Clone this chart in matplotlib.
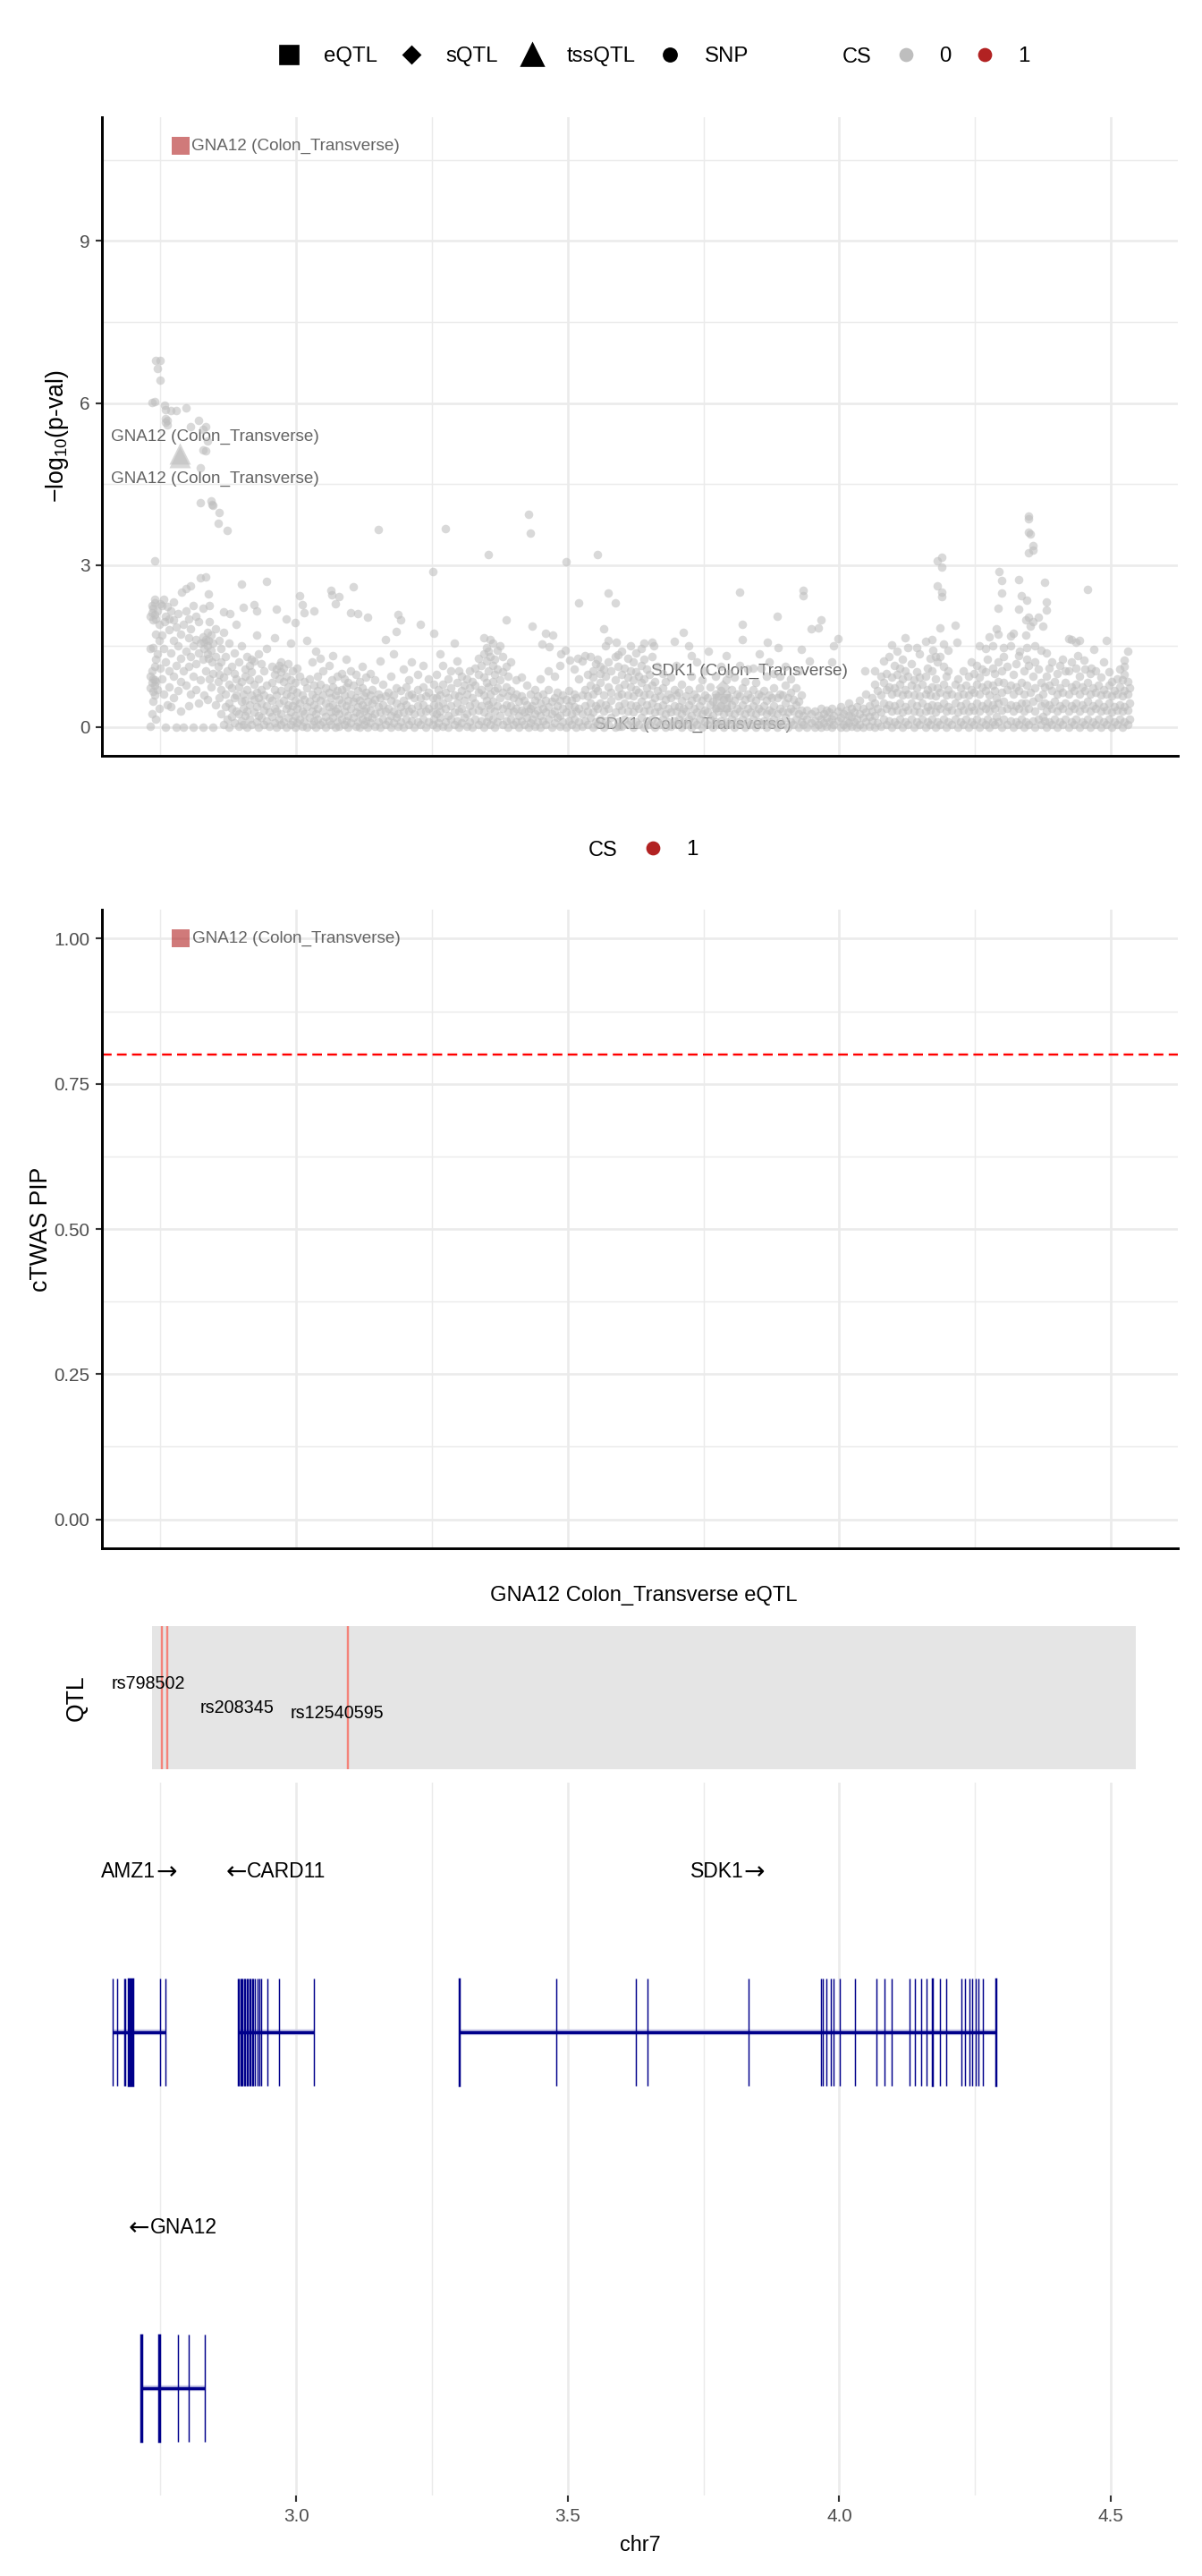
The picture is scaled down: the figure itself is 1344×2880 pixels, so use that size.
import matplotlib
matplotlib.use("Agg")
import matplotlib.pyplot as plt
from matplotlib.lines import Line2D

plt.rcParams["font.family"] = ["Liberation Sans", "DejaVu Sans"]
plt.rcParams["mathtext.fontset"] = "custom"
plt.rcParams["mathtext.rm"] = "Liberation Sans"
plt.rcParams["mathtext.it"] = "Liberation Sans:italic"

# ---------------- data ----------------
# SNP z-scores as -log10(p), grouped by position (Mb on chr7)
snp_block_a = [
    (2.731, [0.02, 0.72, 0.95, 1.45, 2.05]), (2.734, [0.25, 0.82, 1.05, 2.12, 2.25, 6.01]),
    (2.737, [0.48, 0.66, 0.9, 1.48, 1.98, 2.2]), (2.739, [0.78, 0.88, 1.12, 2.3, 6.02]),
    (2.740, [3.08, 0.6, 2.08, 2.37]), (2.742, [6.79, 0.15, 0.85, 1.25, 1.72, 2.0]),
    (2.745, [6.64, 0.7, 1.35, 2.15]), (2.748, [0.35, 1.6, 1.9]), (2.750, [6.78, 6.42, 1.1, 2.28]),
    (2.753, [0.9, 1.7, 2.25]), (2.756, [2.36, 0.62, 1.45]), (2.757, [5.96, 1.95]),
    (2.760, [5.88, 5.71, 5.65, 0.0, 1.2, 2.05]), (2.762, [5.6, 5.68, 0.42, 2.24]),
    (2.766, [0.75, 1.05, 1.8, 2.0]), (2.770, [5.86, 0.38, 1.38, 2.16]),
    (2.774, [2.32, 0.55, 0.95, 1.6, 1.98]), (2.779, [5.86, 0.0, 1.15, 1.85]),
    (2.783, [0.68, 1.5, 2.1]), (2.788, [0.3, 0.85, 1.28, 1.72]), (2.789, [2.5]),
    (2.792, [0.0, 1.05, 1.9]), (2.797, [2.56, 0.78, 1.4]), (2.798, [5.91, 2.15]),
    (2.802, [0.4, 1.12, 1.65, 2.0]), (2.806, [5.56, 2.61, 0.62, 1.3, 1.82]),
    (2.810, [0.0, 0.95, 1.5, 2.25]), (2.815, [0.7, 1.18, 1.62, 2.05]),
    (2.820, [5.67, 0.45, 1.38, 1.95]), (2.824, [2.77, 4.8, 4.16, 0.88, 1.55]),
    (2.828, [5.51, 5.13, 0.0, 1.25, 1.68, 2.2]), (2.831, [0.6, 1.45, 1.58]),
    (2.833, [5.57, 5.12, 2.78, 1.05, 1.62]), (2.836, [5.29, 0.52, 1.35, 1.5, 1.75]),
    (2.838, [2.47, 1.28, 1.6]), (2.840, [2.25, 0.9, 1.95]), (2.844, [4.19, 0.75, 1.42, 1.7]),
    (2.845, [4.13, 1.2]), (2.847, [4.11, 0.0, 1.0, 1.55]), (2.851, [0.42, 1.3, 1.82]),
    (2.856, [3.78, 0.85, 1.12]), (2.858, [3.97, 0.55, 0.98, 1.6]), (2.862, [0.25, 0.7, 1.2, 1.45]),
    (2.866, [2.13, 0.05, 0.92, 1.75]), (2.870, [0.38, 0.62, 1.3]), (2.873, [3.65, 0.15, 1.05]),
]

snp_block_b = [
    (2.877, [0.0, 0.45, 0.8, 1.55]), (2.878, [2.1]), (2.882, [0.2, 0.35, 0.72, 1.12]),
    (2.886, [0.08, 0.55, 1.0, 1.38]), (2.890, [0.3, 0.6, 0.9, 1.9]), (2.894, [0.02, 0.25, 0.75, 1.2]),
    (2.900, [2.65, 0.12, 0.48, 0.85, 1.5]), (2.903, [2.22, 0.05, 0.35, 0.62]),
    (2.906, [0.22, 0.5, 0.95, 1.08]), (2.910, [0.0, 0.3, 0.7, 1.3]), (2.914, [0.15, 0.42, 0.88, 1.15]),
    (2.918, [0.05, 0.6, 1.02, 1.25]), (2.923, [2.26, 0.28, 0.52, 0.8, 1.22]),
    (2.927, [2.15, 0.1, 0.38, 0.65, 1.7]), (2.931, [0.0, 0.22, 0.55, 0.9, 1.35]),
    (2.935, [0.18, 0.45, 0.7, 1.18]), (2.940, [0.05, 0.32, 0.6, 1.05]),
    (2.946, [2.70, 0.12, 0.4, 0.78, 1.45]), (2.950, [0.02, 0.28, 0.55]), (2.955, [0.2, 0.5, 0.82, 1.12]),
    (2.960, [0.08, 0.35, 0.7, 0.98, 1.65]), (2.964, [2.18, 0.0, 0.3, 0.6, 1.08]),
    (2.968, [0.15, 0.45, 0.9, 1.15]), (2.972, [0.05, 0.25, 0.68, 1.02, 1.2]),
    (2.977, [0.1, 0.5, 0.85, 1.1]), (2.981, [2.0, 0.0, 0.35, 0.62, 0.95]),
    (2.985, [0.18, 0.42, 0.75, 1.18]), (2.990, [0.05, 0.28, 0.58, 0.88, 1.55]),
    (2.994, [0.12, 0.4, 0.7, 1.05]), (2.998, [1.93, 0.0, 0.22, 0.5, 0.82]),
    (3.002, [0.08, 0.35, 0.65, 1.1]), (3.006, [2.43, 0.15, 0.45, 0.95]), (3.011, [2.27, 0.02, 0.3, 0.6]),
    (3.015, [2.12, 0.1, 0.25, 0.52, 0.85]), (3.020, [0.0, 0.38, 0.72, 1.6]), (3.025, [0.18, 0.48, 0.9]),
    (3.029, [0.05, 0.3, 0.62, 1.2]), (3.032, [2.16, 0.12, 0.42, 0.78]), (3.036, [0.0, 0.25, 0.55, 1.4]),
    (3.040, [0.15, 0.35, 0.68, 0.95]), (3.045, [0.05, 0.5, 0.8, 1.28]), (3.050, [0.1, 0.3, 0.6, 1.05]),
    (3.055, [0.0, 0.2, 0.45, 0.72]), (3.060, [0.12, 0.38, 0.65, 1.15]), (3.064, [2.54, 0.05, 0.28, 0.55]),
    (3.065, [2.45, 0.88]), (3.068, [0.18, 0.42, 0.75, 1.32]), (3.072, [2.29, 0.0, 0.3, 0.6]),
    (3.076, [0.1, 0.35, 0.68, 0.95]), (3.079, [2.42, 0.02, 0.25, 0.52]), (3.084, [0.15, 0.45, 0.7, 1.0]),
    (3.088, [0.05, 0.3, 0.6, 0.9]), (3.092, [0.12, 0.4, 0.75, 1.25]), (3.096, [0.0, 0.22, 0.5, 0.82]),
    (3.100, [2.12, 0.08, 0.35, 0.62, 1.05]), (3.106, [2.6, 0.18, 0.48, 0.78]),
    (3.110, [0.02, 0.28, 0.55, 0.98]), (3.113, [2.1, 0.1, 0.38, 0.68]), (3.117, [0.0, 0.25, 0.5, 0.85]),
    (3.121, [0.15, 0.42, 0.72, 1.12]), (3.125, [0.05, 0.3, 0.58]), (3.129, [0.12, 0.35, 0.65, 0.92]),
    (3.132, [2.04, 0.0, 0.2, 0.48]), (3.136, [0.08, 0.32, 0.6, 1.0]), (3.140, [0.18, 0.45, 0.7]),
    (3.145, [0.02, 0.25, 0.52, 0.88]), (3.151, [3.66, 0.1, 0.38, 0.62]), (3.155, [0.0, 0.28, 0.55, 1.22]),
    (3.160, [0.15, 0.42, 0.8]), (3.165, [0.05, 0.3, 0.58, 1.62]), (3.170, [0.12, 0.35, 0.65]),
    (3.175, [0.0, 0.22, 0.5, 0.95]), (3.180, [0.08, 0.3, 0.6, 1.35]), (3.185, [1.77, 0.18, 0.45, 0.72]),
    (3.188, [2.09, 0.02, 0.25]), (3.193, [1.98, 0.1, 0.38, 0.68]), (3.198, [0.0, 0.28, 0.5, 1.08]),
    (3.203, [0.15, 0.42, 0.75]), (3.208, [0.05, 0.3, 0.6, 0.88]), (3.213, [0.12, 0.35, 0.62, 1.2]),
    (3.218, [0.0, 0.25, 0.55]), (3.223, [0.1, 0.4, 0.7, 0.98]), (3.229, [1.9, 0.05, 0.28, 0.55]),
    (3.234, [0.15, 0.42, 0.75, 1.15]), (3.239, [0.0, 0.3, 0.58]), (3.244, [0.1, 0.35, 0.65, 0.9]),
    (3.251, [2.88, 0.05, 0.28, 0.55]), (3.254, [1.73, 0.15, 0.42, 0.8]),
]

snp_block_c = [
    (3.258, [0.0, 0.25, 0.55, 0.98]), (3.262, [0.08, 0.4, 0.7]), (3.265, [1.35, 0.18, 0.3, 0.6]),
    (3.270, [0.02, 0.45, 0.8, 1.15]), (3.275, [3.68, 0.1, 0.35, 0.65]), (3.280, [0.0, 0.22, 0.55, 0.9]),
    (3.285, [0.15, 0.4, 0.72, 1.05]), (3.292, [1.55, 0.05, 0.28, 0.6]), (3.296, [1.22, 0.12, 0.45, 0.82]),
    (3.300, [0.0, 0.3, 0.58, 1.05]), (3.305, [0.08, 0.35, 0.68, 0.95]), (3.310, [0.18, 0.5, 0.78]),
    (3.315, [0.02, 0.25, 0.62, 0.9]), (3.320, [0.1, 0.4, 0.72, 1.05]), (3.325, [0.0, 0.3, 0.55, 0.85]),
    (3.330, [0.15, 0.45, 0.78, 1.1]), (3.335, [0.05, 0.32, 0.65, 0.98, 1.28]),
    (3.340, [0.12, 0.4, 0.7, 1.15]), (3.345, [1.66, 0.0, 0.28, 0.6, 0.92, 1.35]),
    (3.350, [0.1, 0.5, 0.82, 1.22, 1.48]), (3.354, [3.19, 0.2, 0.42, 0.75, 1.05, 1.4]),
    (3.358, [0.05, 0.35, 0.62, 1.3, 1.62]), (3.362, [0.15, 0.48, 0.85, 1.15, 1.55]),
    (3.366, [0.0, 0.3, 0.68, 0.98, 1.25]), (3.370, [0.1, 0.4, 0.72, 1.08, 1.42]),
    (3.375, [0.22, 0.55, 0.88, 1.5]), (3.380, [0.05, 0.35, 0.65, 1.02, 1.3]),
    (3.386, [1.98, 0.12, 0.42, 0.75, 1.12]), (3.390, [0.0, 0.28, 0.58, 0.95]),
    (3.395, [0.15, 0.4, 0.68, 1.2]), (3.400, [0.05, 0.3, 0.55]), (3.405, [0.1, 0.35, 0.62, 0.88]),
    (3.410, [0.0, 0.22, 0.48]), (3.415, [0.12, 0.32, 0.58, 0.92]), (3.420, [0.05, 0.28, 0.5]),
    (3.424, [0.18, 0.42, 0.78]), (3.428, [3.94, 0.0, 0.3]), (3.431, [3.59, 0.08, 0.35, 0.62]),
    (3.434, [1.87, 0.15, 0.4]), (3.440, [0.02, 0.25, 0.5, 0.7]), (3.445, [0.1, 0.32, 0.58]),
    (3.450, [0.0, 0.22, 0.45, 0.9]), (3.453, [1.54]), (3.455, [0.12, 0.35, 0.62]),
    (3.459, [1.74, 0.05, 0.28, 0.5]), (3.465, [0.15, 0.38, 0.7, 1.05]), (3.466, [1.49]),
    (3.470, [0.0, 0.25, 0.48]), (3.472, [1.70]), (3.475, [0.08, 0.3, 0.55, 0.95]),
    (3.480, [0.18, 0.4, 0.65]), (3.485, [0.02, 0.22, 0.5, 1.15]), (3.487, [1.35]),
    (3.490, [0.1, 0.35, 0.6]), (3.496, [1.43]), (3.497, [3.06, 0.0, 0.28, 0.52]),
    (3.502, [0.12, 0.4, 0.68]), (3.504, [1.24]), (3.507, [0.05, 0.25, 0.5]),
    (3.512, [0.15, 0.38, 0.62, 1.08]), (3.516, [0.0, 0.3, 0.55]), (3.518, [1.28]),
    (3.521, [2.3, 0.1, 0.35, 0.9]), (3.526, [0.02, 0.25, 0.6, 1.22]), (3.531, [1.33, 0.12, 0.4, 0.7]),
    (3.536, [0.05, 0.3, 0.58, 0.98]), (3.541, [0.18, 0.45, 0.78, 1.3]),
    (3.546, [0.0, 0.28, 0.62, 0.92, 1.05]), (3.551, [0.1, 0.4, 0.72, 1.18]),
    (3.555, [3.2, 0.05, 0.35, 0.68, 1.25]), (3.560, [0.15, 0.45, 0.82, 1.0, 1.12]),
    (3.566, [1.82, 0.0, 0.3, 0.6, 1.08]), (3.570, [0.12, 0.42, 0.95, 1.5]),
    (3.575, [2.48, 0.05, 0.35, 0.75, 1.2, 1.6]), (3.580, [0.18, 0.5, 0.65, 1.05]),
    (3.587, [2.3, 0.0, 0.28, 0.88, 1.3]), (3.589, [1.58]), (3.592, [1.34, 0.1, 0.58, 1.12]),
    (3.595, [0.02, 0.4, 0.72]),
]

snp_block_d = [
    (3.600, [0.02, 0.32, 0.62, 0.98, 1.4]), (3.605, [0.15, 0.45, 0.8, 1.1]),
    (3.610, [0.05, 0.3, 0.6, 0.92, 1.28]), (3.615, [0.12, 0.42, 0.75, 1.05, 1.5]),
    (3.620, [0.0, 0.28, 0.58, 0.88, 1.2]), (3.625, [0.1, 0.4, 0.7, 1.02, 1.38]),
    (3.630, [0.05, 0.35, 0.65, 0.95]), (3.635, [0.18, 0.48, 0.82, 1.15, 1.45]),
    (3.641, [1.55, 0.0, 0.3, 0.6, 0.9, 1.25]), (3.645, [0.12, 0.42, 0.72, 1.08]),
    (3.650, [0.05, 0.32, 0.62, 0.98]), (3.655, [1.58, 0.15, 0.45, 0.78, 1.3]),
    (3.658, [1.5]), (3.660, [0.0, 0.28, 0.55, 0.85]), (3.665, [0.1, 0.38, 0.68, 1.12]),
    (3.670, [0.05, 0.3, 0.58]), (3.675, [0.15, 0.42, 0.72, 1.0]), (3.680, [0.0, 0.25, 0.52, 0.85]),
    (3.685, [0.1, 0.35, 0.62]), (3.690, [0.02, 0.28, 0.55, 0.92]), (3.696, [1.59, 0.12, 0.4, 0.7]),
    (3.700, [0.05, 0.3, 0.6, 1.15]), (3.705, [0.15, 0.38, 0.65]), (3.710, [0.0, 0.25, 0.5, 0.8]),
    (3.713, [1.76, 0.1, 0.35]), (3.718, [0.05, 0.3, 0.58]), (3.722, [1.5, 0.15, 0.42, 0.7]),
    (3.727, [0.0, 0.22, 0.5, 0.95]), (3.728, [1.32]), (3.732, [0.1, 0.35, 0.62]),
    (3.737, [0.05, 0.28, 0.55, 1.2]), (3.742, [0.15, 0.4, 0.72]), (3.747, [0.0, 0.25, 0.5, 0.88]),
    (3.752, [0.1, 0.32, 0.6, 1.05]), (3.757, [0.05, 0.28, 0.55]), (3.759, [1.4]),
    (3.762, [0.15, 0.42, 0.75]), (3.767, [0.0, 0.22, 0.48]), (3.772, [0.1, 0.35, 0.62, 0.95]),
    (3.777, [0.05, 0.3, 0.58]), (3.782, [0.12, 0.4, 0.68, 1.12]), (3.787, [0.0, 0.25, 0.52]),
    (3.792, [1.32, 0.1, 0.35, 0.62, 0.88]), (3.797, [0.05, 0.28, 0.55, 1.0]),
    (3.802, [0.15, 0.42, 0.7]), (3.807, [0.0, 0.25, 0.5, 0.92]), (3.812, [0.1, 0.35, 0.62]),
    (3.816, [2.5, 0.05, 0.3, 0.58, 1.15]), (3.822, [1.91, 1.63, 0.15, 0.42, 0.72]),
    (3.826, [0.0, 0.25, 0.52, 0.85]), (3.831, [0.1, 0.35, 0.62, 1.08]), (3.836, [0.05, 0.28, 0.55]),
    (3.841, [0.15, 0.4, 0.7, 1.1]), (3.846, [0.0, 0.25, 0.5, 0.82]), (3.851, [0.1, 0.35, 0.62]),
    (3.853, [1.35]), (3.856, [0.05, 0.3, 0.58, 1.1]), (3.861, [0.12, 0.4, 0.68]),
    (3.866, [0.0, 0.25, 0.5, 0.95]), (3.868, [1.57]), (3.871, [0.1, 0.32, 0.6, 1.2]),
    (3.876, [0.05, 0.28, 0.55]), (3.880, [0.15, 0.4, 0.72, 1.0]), (3.886, [2.06, 0.0, 0.25, 0.55]),
    (3.887, [1.48]), (3.890, [0.1, 0.35, 0.62, 0.95]), (3.895, [0.05, 0.3, 0.6]),
    (3.900, [0.18, 0.45, 0.78, 1.12]), (3.905, [0.0, 0.28, 0.55]), (3.910, [0.1, 0.35, 0.65, 0.9]),
    (3.915, [0.05, 0.3, 0.52]), (3.920, [0.15, 0.42, 0.72]), (3.925, [0.0, 0.25, 0.48, 1.05]),
    (3.930, [1.44, 0.1, 0.32, 0.6]), (3.934, [2.53, 2.44, 0.05, 0.22]),
]

snp_block_e = [
    (3.940, [0.0, 0.15, 0.32]), (3.945, [1.22]), (3.948, [1.82, 0.08, 0.25]), (3.955, [0.0, 0.12, 0.3]),
    (3.962, [1.83, 0.05, 0.22]), (3.967, [1.99, 0.0, 0.15, 0.35]), (3.972, [0.08, 0.25]),
    (3.977, [0.02, 0.18, 0.32]), (3.982, [0.1, 0.28]), (3.986, [1.21, 0.0, 0.15, 0.35]),
    (3.990, [1.5, 0.05, 0.22]), (3.997, [1.64, 0.12, 0.3]), (4.002, [0.0, 0.18, 0.38]),
    (4.008, [0.05, 0.25]), (4.013, [0.0, 0.12, 0.32]), (4.018, [0.08, 0.22, 0.45]),
    (4.023, [0.02, 0.2, 0.35]), (4.028, [0.1, 0.28]), (4.033, [0.0, 0.15, 0.38]),
    (4.038, [0.05, 0.25, 0.5]), (4.044, [0.0, 0.18, 0.35]), (4.047, [1.05]), (4.049, [0.1, 0.28, 0.62]),
    (4.055, [0.02, 0.2, 0.4]), (4.060, [0.12, 0.3, 0.55]), (4.066, [1.05, 0.0, 0.22, 0.45, 0.8]),
    (4.071, [0.08, 0.35, 0.68]), (4.076, [0.02, 0.28, 0.6, 0.95]), (4.081, [0.15, 0.45, 0.82, 1.22]),
    (4.086, [0.05, 0.35, 0.7, 1.0]), (4.091, [0.12, 0.42, 0.75, 1.3]),
    (4.097, [1.52, 0.0, 0.3, 0.62, 0.92]), (4.102, [0.1, 0.4, 0.72, 1.15]),
    (4.107, [0.05, 0.32, 0.65, 0.98, 1.4]), (4.112, [0.15, 0.45, 0.8, 1.1]),
    (4.117, [0.0, 0.28, 0.6, 0.9, 1.25]), (4.122, [1.66, 0.1, 0.38, 0.7, 1.05]),
    (4.126, [1.48, 0.05, 0.32, 0.62, 0.95]), (4.132, [0.15, 0.45, 0.78, 1.18]),
    (4.137, [0.0, 0.3, 0.6, 0.88]), (4.143, [1.48, 0.1, 0.4, 0.72, 1.02]),
    (4.147, [0.05, 0.28, 0.58, 0.92, 1.35]), (4.152, [0.15, 0.45, 0.8]),
    (4.159, [1.59, 0.0, 0.3, 0.62, 0.95]), (4.162, [0.1, 0.38, 0.7, 1.1]),
    (4.167, [0.05, 0.32, 0.6, 1.28]), (4.170, [1.62, 0.15, 0.42, 0.75, 1.05]), (4.173, [1.43]),
    (4.177, [0.0, 0.28, 0.58, 0.9, 1.3]), (4.181, [3.08, 2.61, 0.1, 0.4, 0.72, 1.2]),
    (4.186, [1.83, 0.05, 0.35, 0.65, 1.3]), (4.188, [3.14, 2.97, 2.5, 2.41]),
    (4.192, [1.54, 0.15, 0.45, 0.8, 1.12]), (4.197, [0.0, 0.3, 0.6, 0.95]),
    (4.200, [1.43, 0.1, 0.38, 0.7, 1.05]), (4.207, [0.05, 0.32, 0.62]),
    (4.214, [1.88, 0.15, 0.45, 0.8]), (4.216, [1.57]), (4.218, [0.0, 0.28, 0.58, 0.9]),
    (4.223, [0.1, 0.4, 0.72]), (4.228, [0.05, 0.32, 0.62, 1.05]), (4.233, [0.15, 0.45, 0.78]),
    (4.238, [0.0, 0.3, 0.6, 0.95]), (4.243, [0.1, 0.38, 0.7, 1.2]), (4.248, [0.05, 0.32, 0.65, 1.0]),
    (4.253, [0.15, 0.45, 0.8, 1.15]), (4.258, [1.51, 0.0, 0.3, 0.62, 0.92]),
    (4.263, [0.1, 0.4, 0.75, 1.08]), (4.269, [1.46, 0.05, 0.35, 0.68, 1.02]),
    (4.273, [0.15, 0.45, 0.8, 1.25]), (4.276, [1.68, 0.0, 0.3, 0.6]),
    (4.283, [1.51, 0.1, 0.42, 0.78, 1.1]), (4.286, [0.05, 0.35, 0.68, 1.0]),
    (4.289, [1.82, 0.2, 0.55]), (4.292, [2.2, 1.72, 0.1, 0.45, 0.85, 1.2]), (4.294, [2.88]),
    (4.299, [2.71, 2.49, 0.0, 0.32, 0.65, 1.05]), (4.302, [1.48, 0.15, 0.48, 0.82, 1.3]),
    (4.309, [0.05, 0.35, 0.7, 1.12]), (4.315, [1.69, 1.5, 0.12, 0.42, 0.78]),
    (4.320, [1.74, 0.0, 0.3, 0.62, 0.98]), (4.325, [0.1, 0.4, 0.75, 1.18]),
    (4.330, [2.73, 2.18, 0.05, 0.35, 0.68, 1.32]), (4.332, [1.4]), (4.335, [2.44, 0.15, 0.45, 0.82]),
    (4.340, [0.0, 0.3, 0.62, 1.05]), (4.343, [1.98, 1.71, 0.1, 0.45]), (4.345, [2.35, 0.78, 1.25]),
    (4.346, [1.48]), (4.348, [3.91, 3.61, 3.23, 2.04, 0.05, 0.35, 1.15]), (4.349, [3.86]),
    (4.351, [3.57, 1.87, 0.65]), (4.356, [3.36, 3.28, 1.95, 0.12, 0.48, 0.95]),
    (4.360, [1.51, 0.0, 0.3, 0.72, 1.2]), (4.367, [2.04, 0.15, 0.55, 1.08]),
    (4.371, [1.43, 0.05, 0.4, 0.82]), (4.375, [1.87, 0.2, 0.62]), (4.378, [2.68, 0.12, 0.45, 0.75]),
    (4.381, [2.32, 2.17, 1.37, 0.0, 0.3, 0.95]), (4.386, [0.1, 0.42, 0.78, 1.1]),
    (4.391, [0.05, 0.35, 0.68, 1.2]), (4.396, [0.15, 0.48, 0.85]), (4.401, [0.0, 0.3, 0.62, 1.0]),
    (4.406, [0.1, 0.4, 0.72, 1.15]), (4.411, [0.05, 0.35, 0.65, 1.25]),
    (4.416, [0.15, 0.45, 0.82, 1.05]), (4.422, [1.64, 0.0, 0.3, 0.62, 1.05]),
    (4.428, [1.63, 0.1, 0.4, 0.75, 1.2]), (4.432, [0.05, 0.35, 0.68]),
    (4.436, [1.57, 0.15, 0.45, 0.8, 1.1]), (4.439, [1.32]), (4.442, [1.6, 0.0, 0.3, 0.62, 0.95]),
    (4.447, [0.1, 0.42, 0.75]), (4.450, [1.24]), (4.452, [0.05, 0.35, 0.68, 1.08]),
    (4.457, [2.55, 0.15, 0.48, 0.82]), (4.462, [0.0, 0.3, 0.62, 1.0]), (4.464, [1.1]),
    (4.467, [0.1, 0.4, 0.72]), (4.469, [1.44]), (4.472, [0.05, 0.35, 0.65, 1.05]),
    (4.477, [0.15, 0.45, 0.78]), (4.482, [0.0, 0.3, 0.6, 0.92]), (4.487, [0.1, 0.38, 0.7, 1.2]),
    (4.492, [1.6, 0.05, 0.32, 0.62]), (4.497, [0.15, 0.45, 0.78, 1.02]),
    (4.502, [0.0, 0.28, 0.58, 0.85]), (4.507, [0.1, 0.38, 0.68]), (4.512, [0.05, 0.32, 0.62, 0.9]),
    (4.517, [0.15, 0.42, 0.75, 1.08]), (4.522, [0.0, 0.3, 0.58, 0.88]),
    (4.525, [1.24, 1.13, 0.1, 0.38, 0.68, 0.98]), (4.531, [1.4, 0.05, 0.32, 0.62, 0.85]),
    (4.534, [0.15, 0.45, 0.72]),
]

# gene-level QTL points in the z-score panel
gene_pt_name = ["GNA12", "GNA12", "GNA12", "SDK1", "SDK1"]
gene_pt_type = ["eQTL", "tssQTL", "tssQTL", "sQTL", "eQTL"]
gene_pt_pos = [2.7866, 2.7857, 2.7857, 3.7846, 3.7835]
gene_pt_logp = [10.76, 5.06, 5.00, 0.74, 0.44]
gene_pt_cs = [1, 0, 0, 0, 0]
tissue = "Colon_Transverse"

# cTWAS PIP panel
pip_name = ["GNA12"]
pip_pos = [2.7866]
pip_value = [1.0]
pip_cs = [1]
pip_threshold = 0.8

# QTL track
qtl_title = "GNA12 Colon_Transverse eQTL"
qtl_window = (2.7347, 4.546)
qtl_snp = ["rs798502", "rs208345", "rs12540595"]
qtl_snp_pos = [2.7526, 2.7627, 3.0960]

# gene track
gene_name = ["AMZ1", "CARD11", "SDK1", "GNA12"]
gene_strand = ["+", "-", "+", "-"]
gene_start = [2.6621, 2.8927, 3.3003, 2.7140]
gene_end = [2.7600, 3.0328, 4.2891, 2.8322]
gene_row = [2, 2, 2, 1]
gene_exons = [
    [(2.6621, 2.6623), (2.6709, 2.6711), (2.6830, 2.6834), (2.6852, 2.6856), (2.6907, 2.7006),
     (2.7489, 2.7492), (2.7598, 2.7600)],
    [(2.8927, 2.8931), (2.8949, 2.8950), (2.8972, 2.8973), (2.8992, 2.8996), (2.9015, 2.9016),
     (2.9038, 2.9039), (2.9059, 2.9060), (2.9087, 2.9088), (2.9114, 2.9115), (2.9142, 2.9143),
     (2.9163, 2.9164), (2.9191, 2.9192), (2.9213, 2.9214), (2.9245, 2.9246), (2.9285, 2.9287),
     (2.9321, 2.9325), (2.9354, 2.9357), (2.9466, 2.9467), (2.9685, 2.9686), (3.0326, 3.0328)],
    [(3.3003, 3.3005), (3.4790, 3.4791), (3.6252, 3.6253), (3.6464, 3.6465), (3.8323, 3.8324),
     (3.9657, 3.9658), (3.9698, 3.9699), (3.9756, 3.9757), (3.9840, 3.9841), (3.9898, 3.9899),
     (4.0011, 4.0012), (4.0294, 4.0295), (4.0678, 4.0679), (4.0834, 4.0835), (4.0961, 4.0962),
     (4.1287, 4.1288), (4.1388, 4.1389), (4.1501, 4.1502), (4.1613, 4.1614), (4.1714, 4.1715),
     (4.1855, 4.1856), (4.1969, 4.1970), (4.2252, 4.2253), (4.2323, 4.2324), (4.2394, 4.2395),
     (4.2452, 4.2453), (4.2507, 4.2508), (4.2565, 4.2566), (4.2649, 4.2650), (4.2868, 4.2891)],
    [(2.7140, 2.7172), (2.7462, 2.7490), (2.7823, 2.7826), (2.8023, 2.8026), (2.8319, 2.8322)],
]

x_major = [3.0, 3.5, 4.0, 4.5]
x_minor = [2.75, 3.25, 3.75, 4.25]
legend_types = ["eQTL", "sQTL", "tssQTL", "SNP"]
cs_levels = ["0", "1"]

# ---------------- style ----------------
W, H, DPI = 1344, 2880, 192
X_RANGE = (2.643, 4.624)
GRID = "#EBEBEB"
CS_COLOR = {0: "#BEBEBE", 1: "#B22222"}
TYPE_MARKER = {"eQTL": "s", "sQTL": "D", "tssQTL": "^", "SNP": "o"}
TYPE_SIZE = {"eQTL": 51, "sQTL": 20, "tssQTL": 81, "SNP": 13}
LABEL_GRAY = "#636363"
GENE_FS = 8.6
ARROW_FS = 10.5


def rect(x0, y0, x1, y1):
    return [x0 / W, 1 - y1 / H, (x1 - x0) / W, (y1 - y0) / H]


def style_panel(ax, ylim, yticks, yminor, ylabels):
    ax.set_xlim(*X_RANGE)
    ax.set_ylim(*ylim)
    ax.set_xticks(x_major)
    ax.set_xticks(x_minor, minor=True)
    ax.set_yticks(yticks)
    ax.set_yticklabels(ylabels)
    ax.set_yticks(yminor, minor=True)
    ax.grid(which="major", color=GRID, lw=1.0)
    ax.grid(which="minor", color=GRID, lw=0.55)
    ax.set_axisbelow(True)
    for s in ("top", "right"):
        ax.spines[s].set_visible(False)
    for s in ("left", "bottom"):
        ax.spines[s].set_linewidth(1.1)
    ax.tick_params(axis="x", which="both", length=0, labelbottom=False)
    ax.tick_params(axis="y", which="major", length=2.6, width=0.8, color="#333333",
                   pad=2.6, labelsize=7.8, labelcolor="#4D4D4D")
    ax.tick_params(axis="y", which="minor", length=0)


fig = plt.figure(figsize=(W / DPI, H / DPI), dpi=DPI)

# ---------------- panel 1: z-scores ----------------
ax1 = fig.add_axes(rect(114.3, 131, 1317.3, 845))
style_panel(ax1, (-0.53, 11.29), [0, 3, 6, 9], [1.5, 4.5, 7.5, 10.5], ["0", "3", "6", "9"])

snp_pos, snp_logp = [], []
for block in (snp_block_a, snp_block_b, snp_block_c, snp_block_d, snp_block_e):
    for pos, vals in block:
        snp_pos += [pos] * len(vals)
        snp_logp += vals
ax1.scatter(snp_pos, snp_logp, s=TYPE_SIZE["SNP"], color=CS_COLOR[0], alpha=0.58,
            linewidths=0, zorder=2)

for g, t, x, y, cs in zip(gene_pt_name, gene_pt_type, gene_pt_pos, gene_pt_logp, gene_pt_cs):
    ax1.scatter([x], [y], marker=TYPE_MARKER[t], s=TYPE_SIZE[t], color=CS_COLOR[cs],
                alpha=0.6, linewidths=0, zorder=3)

# repelled label placement
label_xy = [(2.8071, 10.76), (2.6594, 5.375), (2.6594, 4.59), (3.654, 1.04), (3.5498, 0.05)]
for g, (lx, ly) in zip(gene_pt_name, label_xy):
    ax1.text(lx, ly, f"{g} ({tissue})", fontsize=7.1, color=LABEL_GRAY,
             ha="left", va="center", zorder=1.5)

ax1.set_ylabel("−log$_{10}$(p-val)", fontsize=10)
ax1.yaxis.set_label_coords(-0.029, 0.5)

# ---------------- panel 2: cTWAS PIP ----------------
ax2 = fig.add_axes(rect(114.3, 1017, 1317.3, 1731))
style_panel(ax2, (-0.05, 1.05), [0, 0.25, 0.5, 0.75, 1.0], [0.125, 0.375, 0.625, 0.875],
            ["0.00", "0.25", "0.50", "0.75", "1.00"])
ax2.axhline(pip_threshold, color="red", lw=0.9, linestyle=(0, (4.5, 2.5)), zorder=2)
for g, x, y, cs in zip(pip_name, pip_pos, pip_value, pip_cs):
    ax2.scatter([x], [y], marker="s", s=TYPE_SIZE["eQTL"], color=CS_COLOR[cs], alpha=0.6,
                linewidths=0, zorder=3)
    ax2.text(2.809, y, f"{g} ({tissue})", fontsize=7.1, color=LABEL_GRAY,
             ha="left", va="center", zorder=1.5)
ax2.set_ylabel("cTWAS PIP", fontsize=10)
ax2.yaxis.set_label_coords(-0.046, 0.5)

# ---------------- panel 3: QTL track ----------------
ax3 = fig.add_axes(rect(170, 1818, 1270, 1978))
ax3.set_xlim(*qtl_window)
ax3.set_ylim(0, 1)
ax3.set_facecolor("#E5E5E5")
for s in ax3.spines.values():
    s.set_visible(False)
ax3.set_xticks([])
ax3.set_yticks([])
ax3.vlines(qtl_snp_pos, 0, 1, color="#F4837A", lw=0.9)
qtl_label_xy = [(2.7281, 0.60), (2.8911, 0.43), (3.0753, 0.39)]
for name, (lx, ly) in zip(qtl_snp, qtl_label_xy):
    ax3.text(lx, ly, name, fontsize=7.4, ha="center", va="center", color="black")
ax3.set_title(qtl_title, fontsize=8.9, pad=10.5)
ax3.set_ylabel("QTL", fontsize=10)
ax3.yaxis.set_label_coords(-0.0645, 0.5)

# ---------------- panel 4: gene track ----------------
ax4 = fig.add_axes(rect(114.3, 1993, 1317.3, 2790))
ax4.set_xlim(*X_RANGE)
ax4.set_ylim(0.698, 2.701)
ax4.set_xticks(x_major)
ax4.set_xticklabels([f"{v:.1f}" for v in x_major])
ax4.set_xticks(x_minor, minor=True)
ax4.grid(axis="x", which="major", color=GRID, lw=1.0)
ax4.grid(axis="x", which="minor", color=GRID, lw=0.55)
ax4.set_axisbelow(True)
ax4.set_yticks([])
for s in ax4.spines.values():
    s.set_visible(False)
ax4.tick_params(axis="x", which="major", length=2.6, width=0.8, color="#333333", pad=2.6,
                labelsize=7.8, labelcolor="#4D4D4D")
ax4.tick_params(axis="x", which="minor", length=0)
ax4.set_xlabel("chr7", fontsize=8.8, labelpad=4)

arrow_half = 0.838 * ARROW_FS / 2  # points, half width of the DejaVu arrow glyph
for name, strand, start, end, row, exons in zip(gene_name, gene_strand, gene_start,
                                                gene_end, gene_row, gene_exons):
    ax4.plot([start, end], [row, row], color="#CACAE8", lw=2.4, solid_capstyle="butt", zorder=2)
    ax4.plot([start, end], [row, row], color="darkblue", lw=1.3, solid_capstyle="butt", zorder=3)
    ax4.bar([e[0] for e in exons], 0.30, width=[e[1] - e[0] for e in exons],
            bottom=row - 0.15, align="edge", color="darkblue", edgecolor="darkblue",
            linewidth=0.55, zorder=4)
    shift = -arrow_half if strand == "+" else arrow_half
    t = ax4.annotate(name, xy=((start + end) / 2, row + 0.45), xytext=(shift, 0),
                     textcoords="offset points", fontsize=GENE_FS, ha="center", va="center")
    if strand == "+":
        ax4.annotate("→", xy=(1, 0.5), xycoords=t, fontsize=ARROW_FS, family="DejaVu Sans",
                     ha="left", va="center")
    else:
        ax4.annotate("←", xy=(0, 0.5), xycoords=t, fontsize=ARROW_FS, family="DejaVu Sans",
                     ha="right", va="center")

# ---------------- legends ----------------
shape_handles = [Line2D([], [], marker=TYPE_MARKER[t], color="black", linestyle="None",
                        markersize=ms) for t, ms in zip(legend_types, [7.5, 5.0, 9.0, 5.3])]
fig.legend(shape_handles, legend_types, loc="center", bbox_to_anchor=(574 / W, 1 - 63 / H),
           ncol=4, frameon=False, fontsize=9, handlelength=1.0, handletextpad=1.12,
           columnspacing=1.08, borderpad=0, borderaxespad=0)

fig.text(958 / W, 1 - 63 / H, "CS", fontsize=8.8, ha="center", va="center")
cs_handles = [Line2D([], [], marker="o", color=CS_COLOR[int(c)], linestyle="None", markersize=4.9)
              for c in cs_levels]
fig.legend(cs_handles, cs_levels, loc="center", bbox_to_anchor=(1076 / W, 1 - 63 / H),
           ncol=2, frameon=False, fontsize=9, handlelength=1.0, handletextpad=1.04,
           columnspacing=1.08, borderpad=0, borderaxespad=0)

fig.text(674 / W, 1 - 950 / H, "CS", fontsize=8.8, ha="center", va="center")
fig.legend([cs_handles[1]], ["1"], loc="center", bbox_to_anchor=(749 / W, 1 - 950 / H),
           ncol=1, frameon=False, fontsize=9, handlelength=1.0, handletextpad=1.04,
           borderpad=0, borderaxespad=0)

fig.savefig("out.png", dpi=DPI)
